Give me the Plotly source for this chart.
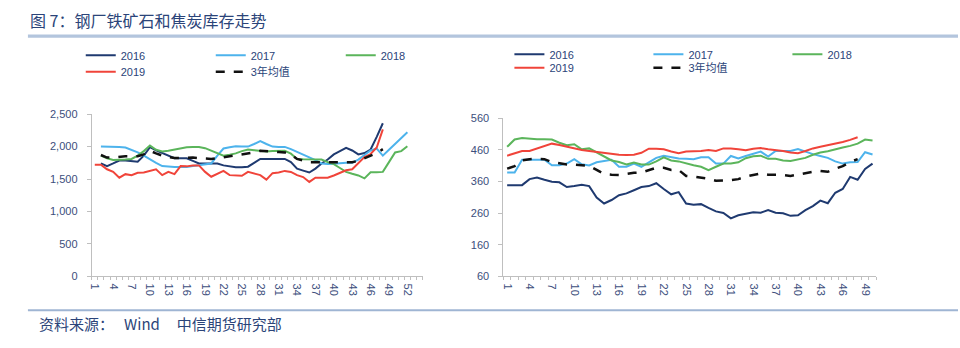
import plotly.graph_objects as go

# ---- left panel: iron ore inventory at steel mills (weekly, by year) ----
weeks_left = list(range(1, 53))
ore_2016 = [None, 1740, 1700, 1740, 1785, 1785, 1780, 1765, 1860, 1990,
            1940, 1900, 1860, 1820, 1820, 1820, 1780, 1740, 1740, 1740,
            1740, 1710, 1690, 1680, 1680, 1690, 1750, 1810, 1810, 1810,
            1810, 1810, 1760, 1660, 1630, 1600, 1660, 1740, 1800, 1880,
            1930, 1980, 1940, 1880, 1900, 1955, 2150, 2360]
ore_2017 = [None, 2000, 2000, 2000, 1995, 1985, 1950, 1910, 1860, 1800,
            1750, 1700, 1690, 1685, 1685, 1685, 1700, 1710, 1730, 1740,
            1860, 1970, 1990, 2005, 2000, 2000, 2040, 2085, 2040, 2000,
            1995, 1995, 1960, 1920, 1880, 1840, 1790, 1740, 1730, 1735,
            1745, 1750, 1750, 1800, 1870, 1940, 1970, 1860, 1950, 2040,
            2130, 2220]
ore_2018 = [None, 1860, 1820, 1795, 1795, 1800, 1810, 1860, 1930, 2015,
            1950, 1925, 1935, 1955, 1970, 1990, 1995, 1995, 1975, 1935,
            1890, 1860, 1875, 1895, 1930, 1955, 1945, 1930, 1925, 1930,
            1935, 1935, 1890, 1810, 1805, 1805, 1805, 1800, 1760, 1730,
            1670, 1610, 1580, 1555, 1510, 1605, 1605, 1610, 1760, 1910,
            1930, 2005]
ore_2019 = [1720, 1720, 1650, 1610, 1520, 1575, 1560, 1595, 1600, 1620,
            1650, 1560, 1610, 1575, 1700, 1695, 1710, 1710, 1610, 1535,
            1575, 1625, 1560, 1550, 1550, 1610, 1590, 1560, 1490, 1590,
            1600, 1625, 1610, 1560, 1530, 1455, 1520, 1520, 1520, 1555,
            1590, 1635, 1650, 1740, 1840, 1885, 1985, 2265]
ore_avg3 = [None, 1870, 1830, 1830, 1845, 1850, 1850, 1850, 1880, 1935,
            1895, 1860, 1840, 1825, 1825, 1830, 1830, 1820, 1815, 1810,
            1820, 1835, 1850, 1870, 1880, 1890, 1910, 1935, 1925, 1915,
            1915, 1910, 1880, 1810, 1780, 1760, 1760, 1760, 1760, 1760,
            1760, 1760, 1760, 1780, 1820, 1860, 1900, 1960]

# ---- right panel: coke inventory at steel mills (weekly, by year) ----
weeks_right = list(range(1, 51))
coke_2016 = [348, 348, 348, 367, 372, 365, 359, 357, 342, 345,
             349, 345, 309, 290, 301, 316, 322, 332, 342, 345,
             354, 336, 319, 326, 290, 286, 288, 276, 265, 260,
             243, 253, 257, 262, 261, 269, 261, 259, 251, 253,
             269, 282, 299, 291, 324, 336, 374, 365, 399, 416]
coke_2017 = [388, 388, 428, 428, 428, 428, 411, 411, 416, 430,
             414, 410, 420, 423, 428, 406, 406, 416, 406, 420,
             434, 441, 436, 432, 431, 430, 436, 436, 416, 416,
             440, 432, 440, 446, 454, 438, 456, 456, 456, 462,
             453, 446, 440, 434, 423, 416, 420, 421, 452, 445]
coke_2018 = [469, 492, 497, 494, 493, 493, 492, 482, 474, 477,
             461, 464, 451, 438, 426, 421, 413, 419, 413, 413,
             423, 436, 426, 423, 416, 411, 406, 395, 406, 416,
             416, 420, 433, 439, 441, 431, 431, 426, 424, 430,
             434, 444, 451, 455, 462, 467, 472, 479, 492, 489]
coke_2019 = [441, 448, 456, 456, 463, 470, 479, 475, 470, 463,
             459, 456, 453, 448, 447, 444, 443, 444, 450, 463,
             463, 461, 454, 449, 454, 454, 456, 459, 456, 464,
             464, 461, 458, 463, 465, 461, 459, 456, 451, 449,
             456, 464, 469, 474, 478, 484, 491, 499]
coke_avg3 = [400, 408, 426, 430, 431, 430, 421, 416, 413, 413,
             411, 409, 396, 383, 381, 380, 383, 387, 388, 395,
             403, 403, 396, 396, 377, 375, 372, 368, 362, 362,
             364, 367, 375, 380, 385, 381, 381, 380, 377, 382,
             385, 390, 393, 390, 400, 408, 421, 430]

series_names = ["2016", "2017", "2018", "2019", "3年均值"]
colors = ["#1F3A70", "#4DB3EC", "#5BB55B", "#F0443A", "#111111"]

TICK_COLOR = "#3C4E7C"
TEXT_COLOR = "#2B4479"
AXIS_COLOR = "#BFBFBF"
FONT = "Liberation Sans, Noto Sans CJK SC, sans-serif"

fig = go.Figure()

left_data = [ore_2016, ore_2017, ore_2018, ore_2019, ore_avg3]
right_data = [coke_2016, coke_2017, coke_2018, coke_2019, coke_avg3]
left_legends = ["legend", "legend", "legend", "legend2", "legend2"]
right_legends = ["legend3", "legend3", "legend3", "legend4", "legend4"]


def line_style(name, col):
    is_avg = name == "3年均值"
    return dict(color=col, width=2.5 if is_avg else 2,
                dash="dash" if is_avg else "solid")


for name, col, ys, lg in zip(series_names, colors, left_data, left_legends):
    fig.add_trace(go.Scatter(
        x=weeks_left[:len(ys)], y=ys, name=name, mode="lines",
        line=line_style(name, col), xaxis="x", yaxis="y", legend=lg,
        connectgaps=False, hoverinfo="skip"))

for name, col, ys, lg in zip(series_names, colors, right_data, right_legends):
    fig.add_trace(go.Scatter(
        x=weeks_right[:len(ys)], y=ys, name=name, mode="lines",
        line=line_style(name, col), xaxis="x2", yaxis="y2", legend=lg,
        connectgaps=False, hoverinfo="skip"))

W, H = 960, 348


def px_x(v):
    return v / W


def px_y(v):
    return (H - v) / H


xaxis_common = dict(
    showgrid=False, zeroline=False, showline=True, linecolor=AXIS_COLOR,
    linewidth=1, ticks="", tickangle=90, ticklabelstandoff=4,
    tickfont=dict(family=FONT, size=11, color=TICK_COLOR),
    minor=dict(ticks="outside", ticklen=3, tick0=0.5, dtick=1,
               tickcolor=AXIS_COLOR, showgrid=False),
)
yaxis_common = dict(
    showgrid=False, zeroline=False, showline=True, linecolor=AXIS_COLOR,
    linewidth=1, ticks="outside", ticklen=4, tickcolor=AXIS_COLOR,
    ticklabelstandoff=7,
    tickfont=dict(family=FONT, size=11, color=TICK_COLOR),
)


def legend_at(x_px, y_px, entry_w):
    return dict(orientation="h", bgcolor="rgba(0,0,0,0)",
                font=dict(family=FONT, size=11, color=TEXT_COLOR),
                xanchor="left", yanchor="middle", entrywidth=entry_w,
                itemwidth=30, tracegroupgap=0,
                x=px_x(x_px), y=px_y(y_px))


fig.update_layout(
    width=W, height=H, margin=dict(l=0, r=0, t=0, b=0),
    paper_bgcolor="white", plot_bgcolor="white",
    xaxis=dict(domain=[px_x(89), px_x(421)], range=[0.5, 54.5],
               tickvals=list(range(1, 53, 3)), anchor="y", **xaxis_common),
    yaxis=dict(domain=[px_y(280), px_y(112)], range=[0, 2500],
               tickvals=[0, 500, 1000, 1500, 2000, 2500], tickformat=",",
               anchor="x", **yaxis_common),
    xaxis2=dict(domain=[px_x(502), px_x(876)], range=[0.5, 50.5],
                tickvals=list(range(1, 50, 3)), anchor="y2", **xaxis_common),
    yaxis2=dict(domain=[px_y(280), px_y(116)], range=[60, 560],
                tickvals=[60, 160, 260, 360, 460, 560],
                anchor="x2", **yaxis_common),
    legend=legend_at(78, 51, 85),
    legend2=legend_at(78, 68, 85),
    legend3=legend_at(508, 50, 94),
    legend4=legend_at(508, 64, 94),
    showlegend=True,
)

# Title, rules and source note
fig.add_annotation(text="图 7：钢厂铁矿石和焦炭库存走势", xref="paper", yref="paper",
                   x=px_x(25), y=px_y(15), xanchor="left", yanchor="middle",
                   showarrow=False,
                   font=dict(family="Noto Sans CJK SC", size=16, color=TEXT_COLOR))
fig.add_shape(type="rect", xref="paper", yref="paper",
              x0=px_x(25), x1=px_x(958), y0=px_y(33), y1=px_y(29.5),
              fillcolor="#B3C5DD", line=dict(width=0))
fig.add_shape(type="line", xref="paper", yref="paper",
              x0=px_x(25), x1=px_x(958), y0=px_y(315), y1=px_y(315),
              line=dict(color="#9FB5D3", width=2))
fig.add_annotation(text="资料来源：   Wind     中信期货研究部", xref="paper", yref="paper",
                   x=px_x(34), y=px_y(329), xanchor="left", yanchor="middle",
                   showarrow=False,
                   font=dict(family="Noto Sans CJK SC", size=15, color=TEXT_COLOR))

fig.write_html("out.html")
